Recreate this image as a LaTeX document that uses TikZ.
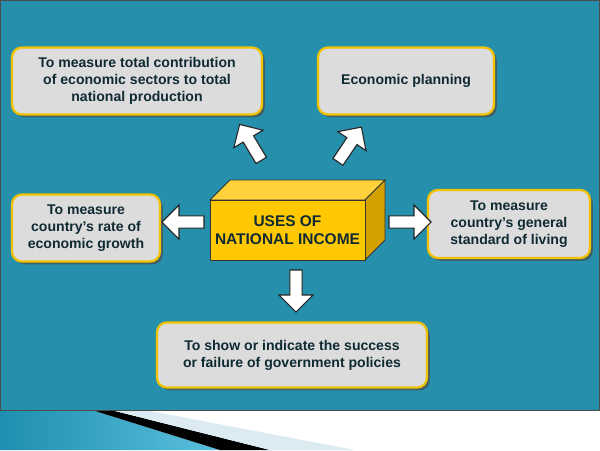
\documentclass[tikz,border=0pt]{standalone}
\usepackage{fontspec}
\setmainfont{Liberation Sans}
\usetikzlibrary{shapes.arrows,shadows}
\definecolor{bg}{HTML}{2690AC}
\definecolor{boxfill}{HTML}{DCDCDC}
\definecolor{boxedge}{HTML}{F2C200}
\definecolor{txt}{HTML}{0F2A33}
\definecolor{cfront}{HTML}{FFC800}
\definecolor{ctop}{HTML}{FFD23C}
\definecolor{cside}{HTML}{D4A200}
\definecolor{sw1}{HTML}{1E8FB0}
\definecolor{sw2}{HTML}{5BBFDD}
\definecolor{sw3}{HTML}{DCEBF1}
\begin{document}
\begin{tikzpicture}[x=0.025cm,y=-0.025cm,
  box/.style={draw=boxedge,line width=1.6pt,fill=boxfill,rounded corners=7pt,
     font=\fontsize{10}{12}\selectfont\bfseries,text=txt,align=center,
     drop shadow={shadow xshift=2pt,shadow yshift=-2pt,fill=black!70,opacity=0.7}},
  barrow/.style={single arrow,draw=black!85,fill=white,line width=0.8pt,
     minimum height=1.05cm,minimum width=0.85cm,single arrow head extend=0.12cm,inner sep=1.5pt}]
\useasboundingbox (0,0) rectangle (600,450);
\fill[white] (0,0) rectangle (600,450);
% swoosh
\shade[left color=sw1,right color=sw2] (0,411) -- (95,411) -- (220,450) -- (0,450) -- cycle;
\fill[black] (95,411) -- (115,411) -- (270,450) -- (220,450) -- cycle;
\fill[sw3] (115,411) -- (150,411) -- (355,450) -- (270,450) -- cycle;
\fill[bg,draw=black!70,line width=0.6pt] (0,0) rectangle (599.5,410);
% boxes
\node[box,minimum width=250*0.025cm,minimum height=67*0.025cm] (tl) at (137,81)
  {To measure total contribution\\of economic sectors to total\\national production};
\node[box,minimum width=176*0.025cm,minimum height=67*0.025cm] (tr) at (406,81) {Economic planning};
\node[box,minimum width=148*0.025cm,minimum height=67*0.025cm] (l) at (86,228)
  {To measure\\country’s rate of\\economic growth};
\node[box,minimum width=162*0.025cm,minimum height=68*0.025cm] (r) at (509,224)
  {To measure\\country’s general\\standard of living};
\node[box,minimum width=270*0.025cm,minimum height=65*0.025cm] (b) at (292,355)
  {To show or indicate the success\\or failure of government policies};
% center 3D box
\filldraw[draw=black!80,line width=0.7pt,fill=ctop] (210,200) -- (230,180) -- (385,180) -- (365,200) -- cycle;
\filldraw[draw=black!80,line width=0.7pt,fill=cside] (365,200) -- (385,180) -- (385,240) -- (365,260) -- cycle;
\node[draw=black!80,line width=0.7pt,fill=cfront,minimum width=155*0.025cm,minimum height=60*0.025cm,
  font=\fontsize{11}{13}\selectfont\bfseries,text=txt,align=center] (c) at (287.5,230) {USES OF\\NATIONAL INCOME};
% arrows
\node[barrow,rotate=121] (a1) at (252,145) {};
\node[barrow,rotate=56] (a2) at (348,147) {};
\node[barrow,rotate=180] (a3) at (186,222) {};
\node[barrow] (a4) at (407,222) {};
\node[barrow,rotate=-90] (a5) at (296,288) {};
\end{tikzpicture}
\end{document}
